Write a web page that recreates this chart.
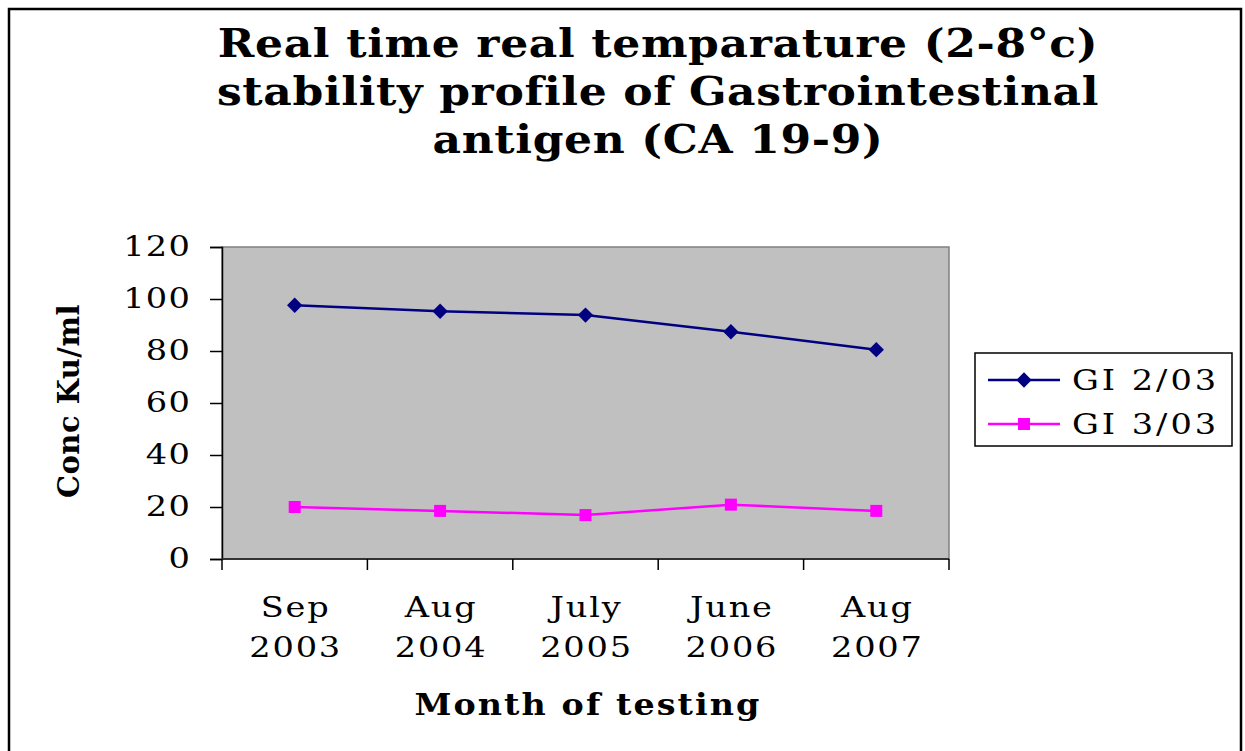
<!DOCTYPE html>
<html>
<head>
<meta charset="utf-8">
<script src="https://cdn.jsdelivr.net/npm/d3@7"></script>
<style>
  body { margin: 0; background: #fff; }
  svg { display: block; }
  text { font-family: 'DejaVu Serif', 'Liberation Serif', serif; }
</style>
</head>
<body>
<div class="svg-container"></div>
<script>
const w = 1245;
const h = 751;

// data
const months = ['Sep', 'Aug', 'July', 'June', 'Aug'];
const years = ['2003', '2004', '2005', '2006', '2007'];
const gi203 = [97.6, 95.3, 93.8, 87.4, 80.5];
const gi303 = [20.0, 18.5, 16.9, 20.9, 18.5];
const yTicks = [0, 20, 40, 60, 80, 100, 120];
const titleLines = [
	'Real time real temparature (2-8°c)',
	'stability profile of Gastrointestinal',
	'antigen (CA 19-9)',
];

const plot = { left: 222, right: 949, top: 247, bottom: 559 };

// the original font is a wide bookman face, so stretch DejaVu Serif a bit
const wide = (x, y, s) => `translate(${x}, ${y}) scale(${s}, 1)`;

const svg = d3
	.select('.svg-container')
	.append('svg')
	.attr('width', w)
	.attr('height', h)
	.attr('viewBox', `0 0 ${w} ${h}`);

// outer frame
svg
	.append('rect')
	.attr('x', 9)
	.attr('y', 9)
	.attr('width', 1232)
	.attr('height', 760)
	.attr('fill', '#fff')
	.attr('stroke', '#000')
	.attr('stroke-width', 2.5);

// title
svg
	.append('g')
	.selectAll('text')
	.data(titleLines)
	.enter()
	.append('text')
	.attr('transform', (d, i) => wide(658, 57 + i * 48, 1.1))
	.style('text-anchor', 'middle')
	.style('font-size', '40px')
	.style('font-weight', 'bold')
	.style('letter-spacing', '0.6px')
	.text(d => d);

const keys = months.map((m, i) => i);

const xScale = d3
	.scaleBand()
	.domain(keys)
	.range([plot.left, plot.right]);

const yScale = d3
	.scaleLinear()
	.domain([0, 120])
	.range([plot.bottom, plot.top]);

const cx = i => xScale(i) + xScale.bandwidth() / 2;

// plot area
svg
	.append('rect')
	.attr('x', plot.left)
	.attr('y', plot.top)
	.attr('width', plot.right - plot.left)
	.attr('height', plot.bottom - plot.top)
	.attr('fill', '#c0c0c0')
	.attr('stroke', '#808080')
	.attr('stroke-width', 1.5);

// y axis
const yAxis = d3
	.axisLeft(yScale)
	.tickValues(yTicks)
	.tickSize(12)
	.tickPadding(18);

const gy = svg
	.append('g')
	.attr('transform', `translate(${plot.left}, 0)`)
	.call(yAxis);
gy.select('.domain').attr('stroke', '#000').attr('stroke-width', 1.5);
gy.selectAll('.tick line').attr('stroke', '#000').attr('stroke-width', 1.5);
gy.selectAll('.tick text')
	.attr('x', 0)
	.attr('transform', wide(-31, 0, 1.2))
	.style('font-size', '28px')
	.style('letter-spacing', '1px')
	.style('font-family', "'DejaVu Serif', serif")
	.attr('fill', '#000');

// x axis: line + ticks at category boundaries
const gx = svg.append('g');
gx.append('line')
	.attr('x1', plot.left)
	.attr('x2', plot.right)
	.attr('y1', plot.bottom)
	.attr('y2', plot.bottom)
	.attr('stroke', '#333')
	.attr('stroke-width', 2);

const bounds = keys.map(k => xScale(k)).concat([plot.right]);
gx.selectAll('.xtick')
	.data(bounds)
	.enter()
	.append('line')
	.attr('class', 'xtick')
	.attr('x1', d => d)
	.attr('x2', d => d)
	.attr('y1', plot.bottom)
	.attr('y2', plot.bottom + 11)
	.attr('stroke', '#000')
	.attr('stroke-width', 1.5);

const xLabels = gx
	.selectAll('.xlabel')
	.data(keys)
	.enter()
	.append('text')
	.attr('class', 'xlabel')
	.attr('transform', d => wide(cx(d) + 1, 0, 1.2))
	.style('text-anchor', 'middle')
	.style('font-size', '28px')
	.style('letter-spacing', '1.5px');
xLabels
	.append('tspan')
	.attr('x', 0)
	.attr('y', 617)
	.text(d => months[d]);
xLabels
	.append('tspan')
	.attr('x', 0)
	.attr('y', 657)
	.text(d => years[d]);

// axis titles
svg
	.append('text')
	.attr('transform', wide(588, 715, 1.15))
	.style('text-anchor', 'middle')
	.style('font-size', '29px')
	.style('font-weight', 'bold')
	.style('letter-spacing', '1.8px')
	.text('Month of testing');

svg
	.append('text')
	.attr('transform', 'translate(79, 401) rotate(-90)')
	.style('text-anchor', 'middle')
	.style('font-size', '29px')
	.style('font-weight', 'bold')
	.style('letter-spacing', '0.5px')
	.text('Conc Ku/ml');

// series
const line = d3
	.line()
	.x((d, i) => cx(i))
	.y(d => yScale(d));

const diamond = d3.symbol().type(d3.symbolDiamond2).size(150);

svg
	.append('path')
	.datum(gi203)
	.attr('fill', 'none')
	.attr('stroke', '#000080')
	.attr('stroke-width', 2.5)
	.attr('d', line);

svg
	.selectAll('.m203')
	.data(gi203)
	.enter()
	.append('path')
	.attr('class', 'm203')
	.attr('transform', (d, i) => `translate(${cx(i)}, ${yScale(d)})`)
	.attr('d', diamond)
	.attr('fill', '#000080');

svg
	.append('path')
	.datum(gi303)
	.attr('fill', 'none')
	.attr('stroke', '#ff00ff')
	.attr('stroke-width', 2.5)
	.attr('d', line);

svg
	.selectAll('.m303')
	.data(gi303)
	.enter()
	.append('rect')
	.attr('class', 'm303')
	.attr('x', (d, i) => cx(i) - 6)
	.attr('y', d => yScale(d) - 6)
	.attr('width', 12)
	.attr('height', 12)
	.attr('fill', '#ff00ff');

// legend
const legend = svg.append('g').attr('transform', 'translate(975, 353)');
legend
	.append('rect')
	.attr('width', 257)
	.attr('height', 93)
	.attr('fill', '#fff')
	.attr('stroke', '#000')
	.attr('stroke-width', 1.5);

const legendItems = [
	{ name: 'GI 2/03', color: '#000080', shape: 'diamond' },
	{ name: 'GI 3/03', color: '#ff00ff', shape: 'square' },
];

legendItems.forEach((item, i) => {
	const g = legend.append('g').attr('transform', `translate(0, ${27 + i * 44})`);
	g.append('line')
		.attr('x1', 13)
		.attr('x2', 85)
		.attr('stroke', item.color)
		.attr('stroke-width', 2.5);
	if (item.shape === 'diamond') {
		g.append('path')
			.attr('transform', 'translate(49, 0)')
			.attr('d', diamond)
			.attr('fill', item.color);
	} else {
		g.append('rect')
			.attr('x', 43)
			.attr('y', -6)
			.attr('width', 12)
			.attr('height', 12)
			.attr('fill', item.color);
	}
	g.append('text')
		.attr('transform', wide(97, 10, 1.2))
		.style('font-size', '28px')
		.style('letter-spacing', '2.5px')
		.text(item.name);
});
</script>
</body>
</html>
